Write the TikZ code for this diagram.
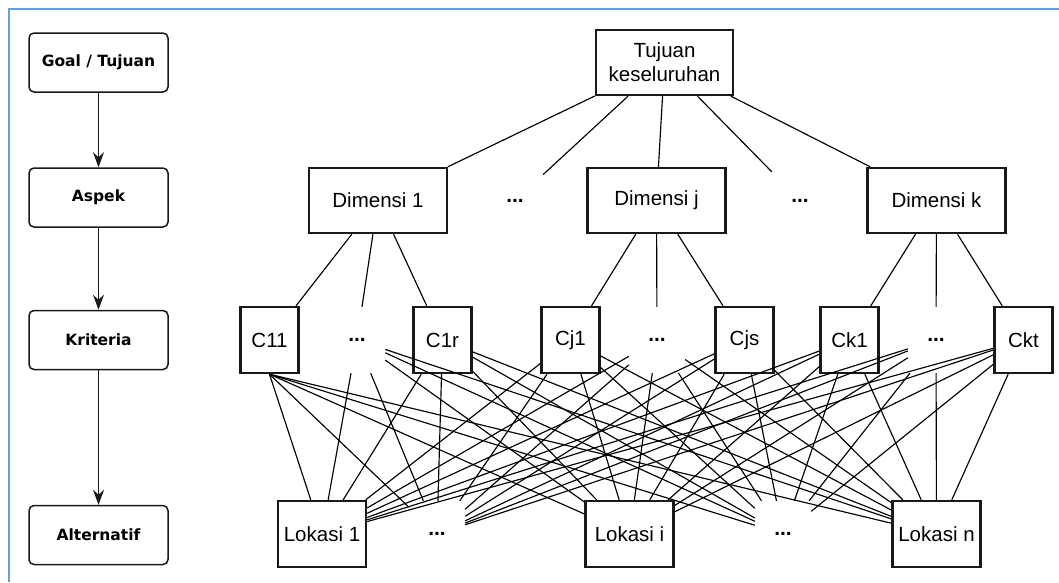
\documentclass[tikz,border=0pt]{standalone}
\usepackage{fontspec}
\setmainfont{Liberation Sans}
\newfontfamily\lblfont{DejaVu Sans}
\usetikzlibrary{arrows.meta}
\definecolor{framecol}{RGB}{100,160,220}
\definecolor{boxline}{RGB}{25,25,25}
\tikzset{
  box/.style={draw=boxline, line width=2.4pt, fill=white, inner sep=0pt,
    font=\fontsize{20.5}{24}\selectfont, align=center},
  cbox/.style={box, minimum width=58pt, minimum height=66pt},
  dbox/.style={box, minimum width=138pt, minimum height=65pt},
  lbox/.style={box, minimum width=88pt, minimum height=66pt},
  ghost/.style={inner sep=0pt, minimum width=56pt, minimum height=66pt,
    font=\fontsize{21}{24}\selectfont\bfseries},
  levelbox/.style={draw=boxline, line width=1.5pt, rounded corners=5pt,
    minimum width=139pt, minimum height=59pt, inner sep=0pt,
    font=\lblfont\fontsize{15.5}{18}\selectfont\bfseries},
  link/.style={line width=1.15pt, black},
  levelarrow/.style={line width=1.4pt, boxline, -{Stealth[length=15pt,width=11pt,inset=5pt]}}
}
\begin{document}
\begin{tikzpicture}[x=1pt,y=-1pt]
\useasboundingbox (0,0) rectangle (1059,582);
\draw[framecol, line width=2.2pt] (9,582) -- (9,9) -- (1059,9);

% left column
\node[levelbox] (goal) at (98.5,62.5) {Goal / Tujuan};
\node[levelbox] (aspek) at (98.5,197.5) {Aspek};
\node[levelbox] (krit) at (98.5,340) {Kriteria};
\node[levelbox] (alt) at (98.5,535) {Alternatif};
\draw[levelarrow] (goal) -- (aspek);
\draw[levelarrow] (aspek) -- (krit);
\draw[levelarrow] (krit) -- (alt);

% top
\node[box, minimum width=137pt, minimum height=65pt] (top) at (664.5,62.5) {Tujuan\\keseluruhan};

% dimensions
\node[dbox] (D1) at (378,200.5) {Dimensi 1};
\node[ghost] (dd1) at (515,200.5) {...};
\node[dbox] (Dj) at (656.5,200.5) {Dimensi j};
\node[ghost] (dd2) at (800,200.5) {...};
\node[dbox] (Dk) at (936.5,200.5) {Dimensi k};

% criteria
\node[cbox] (C11) at (269.5,340) {C11};
\node[ghost] (dc1) at (357,340) {...};
\node[cbox] (C1r) at (442.5,340) {C1r};
\node[cbox] (Cj1) at (570.5,340) {Cj1};
\node[ghost] (dc2) at (657,340) {...};
\node[cbox] (Cjs) at (744.5,340) {Cjs};
\node[cbox] (Ck1) at (849.5,340) {Ck1};
\node[ghost] (dc3) at (936,340) {...};
\node[cbox] (Ckt) at (1023.5,340) {Ckt};

% alternatives
\node[lbox] (L1) at (322,534) {Lokasi 1};
\node[ghost] (da1) at (437,534) {...};
\node[lbox] (Li) at (629.5,534) {Lokasi i};
\node[ghost] (da2) at (783,534) {...};
\node[lbox] (Ln) at (936.5,534) {Lokasi n};

% links top -> dimensions
\foreach \d in {D1,dd1,Dj,dd2,Dk} \draw[link] (top) -- (\d);
% dimensions -> criteria
\foreach \c in {C11,dc1,C1r} \draw[link] (D1) -- (\c);
\foreach \c in {Cj1,dc2,Cjs} \draw[link] (Dj) -- (\c);
\foreach \c in {Ck1,dc3,Ckt} \draw[link] (Dk) -- (\c);
% criteria -> alternatives
\foreach \a in {L1,da1,Li,da2,Ln} {
  \draw[link] (C11.south) -- (\a);
  \foreach \c in {dc1,C1r,Cj1,dc2,Cjs,Ck1,dc3,Ckt} \draw[link] (\c) -- (\a);
}
\end{tikzpicture}
\end{document}
